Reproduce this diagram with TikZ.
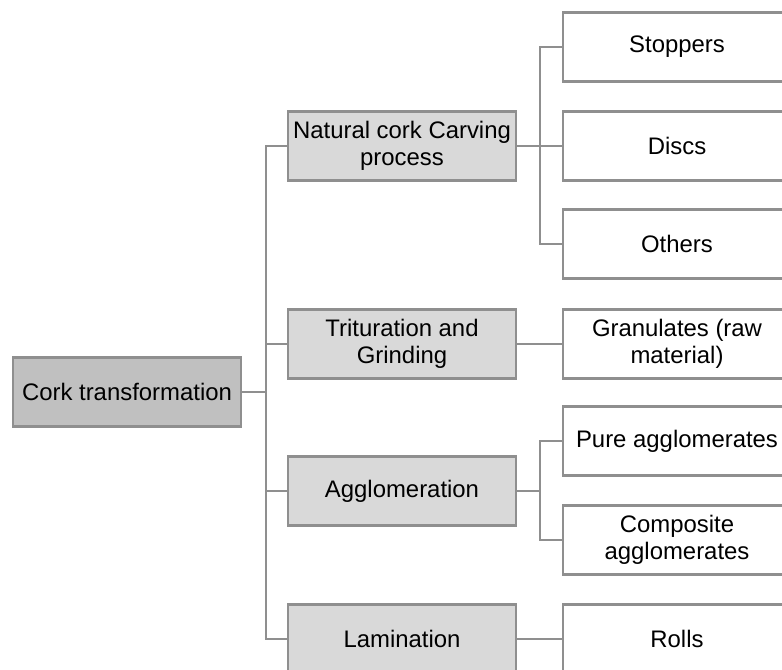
\documentclass[tikz,border=0pt]{standalone}
\usepackage{fontspec}
\setmainfont{Liberation Sans}
\usepackage{tikz}
\usetikzlibrary{positioning}

\definecolor{edgegray}{HTML}{8F8F8F}
\definecolor{rootfill}{HTML}{C0C0C0}
\definecolor{stagefill}{HTML}{D9D9D9}

\begin{document}
\begin{tikzpicture}[
    box/.style={rectangle, draw=edgegray, line width=1.7pt, minimum width=5.7cm, minimum height=1.72cm, align=center, font=\fontsize{17}{19}\selectfont, text=black},
    rootbox/.style={box, fill=rootfill},
    stagebox/.style={box, fill=stagefill},
    leafbox/.style={box, fill=white},
    link/.style={draw=edgegray, line width=1.7pt},
]
\useasboundingbox (0,0) rectangle (19.55,-16.75);

% Root
\node[rootbox] (root) at (3.175, -9.8) {Cork transformation};
\coordinate (trunk) at (6.65, -9.8);

% Processes
\node[stagebox] (carve) at (10.05, -3.65) {Natural cork Carving\\process};
\node[stagebox] (grind) at (10.05, -8.6) {Trituration and\\Grinding};
\node[stagebox] (agglo) at (10.05, -12.275) {Agglomeration};
\node[stagebox] (lamin) at (10.05, -15.975) {Lamination};

% Products
\node[leafbox] (stop) at (16.925, -1.175) {Stoppers};
\node[leafbox] (disc) at (16.925, -3.65) {Discs};
\node[leafbox] (other) at (16.925, -6.1) {Others};
\node[leafbox] (gran) at (16.925, -8.6) {Granulates (raw\\material)};
\node[leafbox] (pure) at (16.925, -11.025) {Pure agglomerates};
\node[leafbox] (comp) at (16.925, -13.5) {Composite\\agglomerates};
\node[leafbox] (roll) at (16.925, -15.975) {Rolls};

% Root to processes
\draw[link] (root.east) -- (trunk);
\draw[link] (trunk) |- (carve.west);
\draw[link] (trunk) |- (grind.west);
\draw[link] (trunk) |- (agglo.west);
\draw[link] (trunk) |- (lamin.west);

% Carving to products
\coordinate (carvebus) at (13.5, -3.65);
\draw[link] (carve.east) -- (carvebus);
\draw[link] (carvebus) |- (stop.west);
\draw[link] (carvebus) |- (disc.west);
\draw[link] (carvebus) |- (other.west);

% Grinding and lamination
\draw[link] (grind.east) -- (gran.west);
\draw[link] (lamin.east) -- (roll.west);

% Agglomeration to products
\coordinate (agglobus) at (13.5, -12.275);
\draw[link] (agglo.east) -- (agglobus);
\draw[link] (agglobus) |- (pure.west);
\draw[link] (agglobus) |- (comp.west);

\end{tikzpicture}
\end{document}
